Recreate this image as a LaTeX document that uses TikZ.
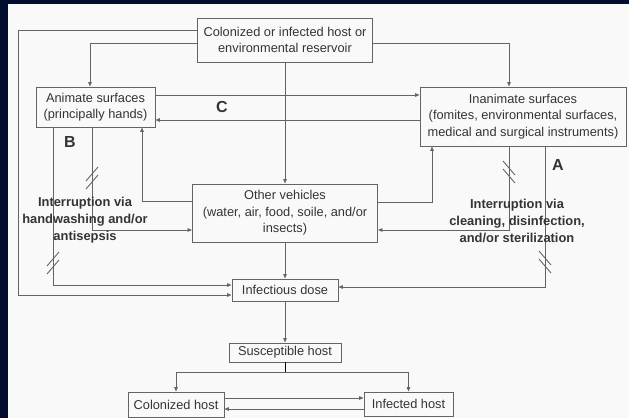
\documentclass[tikz,border=0pt]{standalone}
\usepackage{fontspec}
\setmainfont{Liberation Sans}
\usetikzlibrary{arrows.meta}

\definecolor{navyedge}{RGB}{2,12,46}
\definecolor{paper}{RGB}{249,249,249}
\definecolor{linegray}{RGB}{100,100,100}
\definecolor{textgray}{RGB}{52,52,52}

\newcommand{\boxfont}{\fontsize{12.8}{16.6}\selectfont}
\newcommand{\notefont}{\fontsize{12.9}{16.8}\selectfont\bfseries}
\newcommand{\tagfont}{\fontsize{16}{18}\selectfont\bfseries}

\tikzset{every picture/.style={line width=0.9pt}}
\tikzset{
  hostbox/.style={draw=linegray, line width=0.95pt, inner sep=0pt, align=center,
    text=textgray, font=\boxfont},
  arr/.style={draw=linegray, line width=0.9pt, -{Triangle[length=4.5pt,width=3.6pt]}},
  cut/.style={draw=linegray, line width=0.9pt},
  note/.style={inner sep=0pt, align=center, text=textgray, font=\notefont},
  tag/.style={inner sep=0pt, text=textgray, font=\tagfont}
}

\begin{document}
\begin{tikzpicture}[x=1pt,y=1pt,yscale=-1]
	% Background
	\useasboundingbox (0,0) rectangle (629,418);
	\fill[navyedge] (0,0) rectangle (629,418);
	\fill[paper] (8,4) rectangle (629,418);
	
	% Draw rectangles
	\node[hostbox, minimum width=175pt, minimum height=44pt] (res) at (285,40) {Colonized or infected host or\\environmental reservoir};
	\node[hostbox, minimum width=119pt, minimum height=40pt] (anim) at (95.5,107) {Animate surfaces\\(principally hands)};
	\node[hostbox, minimum width=206pt, minimum height=59pt] (inanim) at (523,116.5) {Inanimate surfaces\\(fomites, environmental surfaces,\\medical and surgical instruments)};
	\node[hostbox, minimum width=185pt, minimum height=58pt] (veh) at (285,213) {Other vehicles\\(water, air, food, soile, and/or\\insects)};
	\node[hostbox, minimum width=106pt, minimum height=22pt] (dose) at (285,290) {Infectious dose};
	\node[hostbox, minimum width=112pt, minimum height=19pt] (susc) at (285,352.5) {Susceptible host};
	\node[hostbox, minimum width=96pt, minimum height=25pt] (colon) at (176,404.5) {Colonized host};
	\node[hostbox, minimum width=89pt, minimum height=24pt] (infect) at (408.5,404) {Infected host};
	
	% Draw straight lines
	\draw[arr] (res.west |- 0,30) -| (18,295) -- (dose.west |- 0,295);
	\draw[arr] (res.west |- 0,43) -| (anim.north -| 90,0);
	\draw[arr] (res.east |- 0,43) -| (inanim.north -| 509,0);
	\draw[arr] (res.south) -- (veh.north);
	
	\draw[arr] (anim.east |- 0,95) -- (inanim.west |- 0,95);
	\draw[arr] (inanim.west |- 0,120) -- (anim.east |- 0,120);
	\draw[arr] (veh.west |- 0,201) -| (anim.south -| 142,0);
	\draw[arr] (veh.east |- 0,202) -| (inanim.south -| 432,0);
	
	\draw[arr] (anim.south -| 53,0) |- (dose.west |- 0,285);
	\draw[arr] (anim.south -| 92,0) |- (veh.west |- 0,230);
	\draw[arr] (inanim.south -| 509,0) |- (veh.east |- 0,230);
	\draw[arr] (inanim.south -| 545,0) |- (dose.east |- 0,287);
	
	\draw[arr] (veh.south) -- (dose.north);
	\draw[arr] (dose.south) -- (susc.north);
	\coordinate (split) at (susc.south |- 0,372);
	\draw (susc.south) -- (split);
	\draw[arr] (split) -| (colon.north);
	\draw[arr] (split) -| (infect.north);
	\draw[arr] (colon.east |- 0,398) -- (infect.west |- 0,398);
	\draw[arr] (infect.west |- 0,409) -- (colon.east |- 0,409);
	
	% Interruption marks
	\foreach \cx/\cy/\dir in {92/178/1, 53/263/1, 509/172/-1, 545/262/-1}
	  \foreach \off in {-4,4}
	    \draw[cut] ({\cx-6},{\cy+\dir*7+\off}) -- ({\cx+6},{\cy-\dir*7+\off});
	
	% Add text nodes
	\node[tag] (tagC) at (222,107) {C};
	\node[tag] (tagB) at (70,142) {B};
	\node[tag] (tagA) at (558,165) {A};
	\node[note] (cuthands) at (85,220) {Interruption via\\handwashing and/or\\antisepsis};
	\node[note] (cutclean) at (517,221) {Interruption via\\cleaning, disinfection,\\and/or sterilization};
\end{tikzpicture}
\end{document}
